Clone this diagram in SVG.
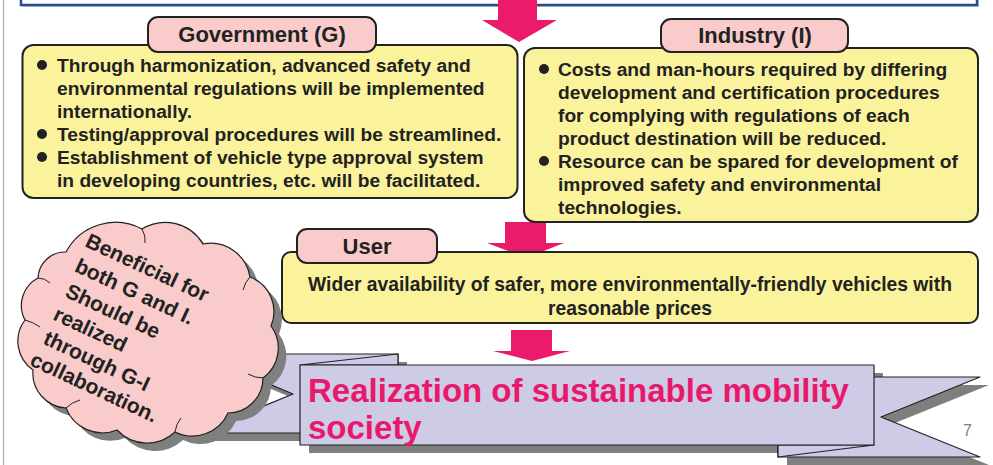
<svg xmlns="http://www.w3.org/2000/svg" width="993" height="465" viewBox="0 0 993 465">
<style>
.t{font-family:"Liberation Sans",Arial,sans-serif;font-weight:bold;fill:#222}
.body{font-size:19.2px}
.lbl{font-size:22px;text-anchor:middle}
.box{fill:#FBF39C;stroke:#222;stroke-width:2}
.tag{fill:#F9CBCB;stroke:#222;stroke-width:2}
.arrow{fill:#EC1A6B}
.rib{fill:#CDCBE6;stroke:#222;stroke-width:1.2;stroke-linejoin:round}
.shadow{fill:#7F7F7F}
</style>
<defs>
<path id="cloudShape" d="M66,252 A56,56 0 0 1 142,229 A44,44 0 0 1 203,244 A40,40 0 0 1 250,277 A37,37 0 0 1 271,326 A37,37 0 0 1 263,378 A35,35 0 0 1 228,413 A39,39 0 0 1 175,432 A41,41 0 0 1 117,430 A39,39 0 0 1 66,408 A35,35 0 0 1 33,370 A35,35 0 0 1 25,320 A31,31 0 0 1 38,278 A27,27 0 0 1 66,252 Z"/>
</defs>
<rect width="993" height="465" fill="#fff"/>
<line x1="3.5" y1="0" x2="3.5" y2="465" stroke="#B0B0B0" stroke-width="1.2"/>
<g id="top-frame">
<rect x="23" y="-8" width="956" height="15" fill="#BFC6D4"/>
<rect x="21" y="-10" width="956" height="15" fill="#fff" stroke="#2B4C8C" stroke-width="2.5"/>
</g>
<g id="connectors">
<polygon class="arrow" points="498,0 537,0 537,20 557,20 519,42 482,20 498,20"/>
<polygon class="arrow" points="505,222 546,222 546,243 564,243 526,258 487,243 505,243"/>
<polygon class="arrow" points="511,330 552,330 552,351 570,351 532,361 493,351 511,351"/>
</g>
<g id="government">
<rect class="box" x="22.5" y="45" width="495" height="153" rx="11"/>
<g class="t body">
<circle cx="42" cy="65" r="5" fill="#222"/>
<text x="57" y="72">Through harmonization, advanced safety and</text>
<text x="57" y="95">environmental regulations will be implemented</text>
<text x="57" y="118">internationally.</text>
<circle cx="42" cy="134" r="5" fill="#222"/>
<text x="57" y="141">Testing/approval procedures will be streamlined.</text>
<circle cx="42" cy="157" r="5" fill="#222"/>
<text x="57" y="164">Establishment of vehicle type approval system</text>
<text x="57" y="187">in developing countries, etc. will be facilitated.</text>
</g>
<rect class="tag" x="148" y="17" width="228" height="35" rx="10"/>
<text class="t lbl" x="262" y="42">Government (G)</text>
</g>
<g id="industry">
<rect class="box" x="524" y="48" width="454" height="174" rx="11"/>
<g class="t body">
<circle cx="544" cy="69" r="5" fill="#222"/>
<text x="558" y="76">Costs and man-hours required by differing</text>
<text x="558" y="99">development and certification procedures</text>
<text x="558" y="122">for complying with regulations of each</text>
<text x="558" y="145">product destination will be reduced.</text>
<circle cx="544" cy="161" r="5" fill="#222"/>
<text x="558" y="168">Resource can be spared for development of</text>
<text x="558" y="191">improved safety and environmental</text>
<text x="558" y="214">technologies.</text>
</g>
<rect class="tag" x="661" y="19" width="187" height="33" rx="10"/>
<text class="t lbl" x="755" y="43">Industry (I)</text>
</g>
<g id="user">
<rect class="box" x="282" y="252" width="696" height="71" rx="9"/>
<g class="t" style="font-size:19.3px;text-anchor:middle">
<text x="630" y="291">Wider availability of safer, more environmentally-friendly vehicles with</text>
<text x="630" y="315">reasonable prices</text>
</g>
<rect class="tag" x="297" y="229" width="140" height="34" rx="10"/>
<text class="t lbl" x="367" y="254">User</text>
</g>
<g id="ribbon">
<g class="shadow" transform="translate(9,8)">
<polygon points="198,354 398,354 398,433 198,433 293,394"/>
<polygon points="778,377 980,377 881,417 980,457 778,457"/>
<rect x="300" y="365" width="574" height="80"/>
</g>
<polygon class="rib" points="198,354 398,354 398,433 198,433 293,394"/>
<polygon class="rib" points="778,377 980,377 881,417 980,457 778,457"/>
<polygon class="rib" points="300,365 398,354 398,365"/>
<polygon class="rib" points="874,445 778,457 778,445"/>
<rect class="rib" x="300" y="365" width="574" height="80"/>
<g style="font-family:'Liberation Sans',Arial,sans-serif;font-weight:bold;font-size:33px;fill:#E8196A">
<text x="308" y="402">Realization of sustainable mobility</text>
<text x="308" y="439">society</text>
</g>
</g>
<g id="cloud">
<use href="#cloudShape" class="shadow" transform="translate(8,8)"/>
<use href="#cloudShape" fill="#F9CBCB" stroke="#222" stroke-width="1.2"/>
<g fill="none" stroke="#222" stroke-width="1">
<path d="M142,229 Q146,236 145,243"/>
<path d="M250,277 Q245,282 243,290"/>
<path d="M263,378 Q255,378 248,374"/>
<path d="M175,432 Q176,424 181,418"/>
<path d="M66,408 Q72,402 80,400"/>
<path d="M25,320 Q33,322 40,327"/>
<path d="M38,278 Q45,278 50,283"/>
</g>
<g class="t" transform="translate(84,246) rotate(25)" style="font-size:21px">
<text x="0" y="0">Beneficial for</text>
<text x="1" y="27">both G and I.</text>
<text x="3" y="54">Should be</text>
<text x="2" y="80">realized</text>
<text x="3" y="106">through G-I</text>
<text x="0" y="131">collaboration.</text>
</g>
</g>
<text x="963" y="436" style="font-family:'Liberation Sans',Arial,sans-serif;font-size:16px;fill:#808080">7</text>
</svg>
